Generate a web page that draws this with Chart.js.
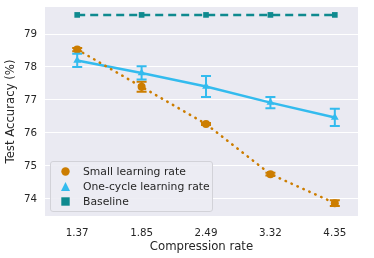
<!DOCTYPE html>
<html>
<head>
<meta charset="utf-8">
<script src="https://cdn.jsdelivr.net/npm/chart.js@4.4.1/dist/chart.umd.min.js"></script>
<style>
  html, body { margin: 0; padding: 0; background: #fff; }
  #wrap { position: relative; width: 374px; height: 258px; }
  #legenda {
    position: absolute; left: 50px; top: 161px; width: 163px; height: 51px;
    background: rgba(236,236,243,0.9); border: 1px solid #d2d2d8; border-radius: 3px;
    font-family: "DejaVu Sans", sans-serif; font-size: 10.8px; color: #262626;
    box-sizing: border-box; padding-top: 2px;
  }
  .stavka { position: relative; height: 15px; line-height: 15px; padding-left: 32px; }
  .znak { position: absolute; left: 10px; top: 3px; width: 9px; height: 9px; }
</style>
</head>
<body>
<div id="wrap">
  <canvas id="grafik" width="374" height="258"></canvas>
  <div id="legenda">
    <div class="stavka"><svg class="znak" viewBox="0 0 9 9"><circle cx="4.5" cy="4.5" r="4.2" fill="#cc7d00"/></svg>Small learning rate</div>
    <div class="stavka"><svg class="znak" viewBox="0 0 9 9"><polygon points="4.5,0 9,9 0,9" fill="#33bbee"/></svg>One-cycle learning rate</div>
    <div class="stavka"><svg class="znak" viewBox="0 0 9 9"><rect x="0.3" y="0.3" width="8.4" height="8.4" fill="#0f8a8f"/></svg>Baseline</div>
  </div>
</div>
<script>
const kategorije = ["1.37", "1.85", "2.49", "3.32", "4.35"];
const maloUcenje = [78.53, 77.4, 76.27, 74.75, 73.87];
const maloGreska = [0.05, 0.15, 0.03, 0.04, 0.09];
const jedanCiklus = [78.2, 77.82, 77.41, 76.92, 76.47];
const ciklusGreska = [0.2, 0.2, 0.32, 0.17, 0.26];
const osnovna = [79.58, 79.58, 79.58, 79.58, 79.58];
const yTikovi = [74, 75, 76, 77, 78, 79];

const boje = { malo: "#cc7d00", ciklus: "#33bbee", osnovna: "#0f8a8f" };

function tacke(niz) {
    return niz.map((v, i) => ({ x: i, y: v }));
}

const pozadina = {
    id: "pozadina",
    beforeDraw(chart) {
        const a = chart.chartArea;
        const ctx = chart.ctx;
        ctx.save();
        ctx.fillStyle = "#eaeaf2";
        ctx.fillRect(a.left, a.top, a.right - a.left, a.bottom - a.top);
        ctx.restore();
    }
};

// error bars drawn through the chart scales
const greske = {
    id: "greske",
    afterDatasetsDraw(chart) {
        const ctx = chart.ctx;
        const xs = chart.scales.x, ys = chart.scales.y;
        const crtaj = (vrijednosti, err, boja) => {
            ctx.save();
            ctx.strokeStyle = boja;
            ctx.lineWidth = 2;
            vrijednosti.forEach((v, i) => {
                const x = xs.getPixelForValue(i);
                const y1 = ys.getPixelForValue(v - err[i]);
                const y2 = ys.getPixelForValue(v + err[i]);
                ctx.beginPath();
                ctx.moveTo(x, y1); ctx.lineTo(x, y2);
                ctx.moveTo(x - 5, y1); ctx.lineTo(x + 5, y1);
                ctx.moveTo(x - 5, y2); ctx.lineTo(x + 5, y2);
                ctx.stroke();
            });
            ctx.restore();
        };
        crtaj(maloUcenje, maloGreska, boje.malo);
        crtaj(jedanCiklus, ciklusGreska, boje.ciklus);
    }
};

const ctx = document.getElementById("grafik").getContext("2d");
new Chart(ctx, {
    type: "line",
    data: {
        datasets: [{
            label: "Small learning rate",
            data: tacke(maloUcenje),
            borderColor: boje.malo,
            backgroundColor: boje.malo,
            borderWidth: 2.5,
            borderDash: [0.5, 6],
            borderCapStyle: "round",
            pointStyle: "circle",
            pointRadius: 4,
            pointBorderWidth: 0
        }, {
            label: "One-cycle learning rate",
            data: tacke(jedanCiklus),
            borderColor: boje.ciklus,
            backgroundColor: boje.ciklus,
            borderWidth: 2.5,
            pointStyle: "triangle",
            pointRadius: 4.5,
            pointBorderWidth: 0
        }, {
            label: "Baseline",
            data: tacke(osnovna),
            borderColor: boje.osnovna,
            backgroundColor: boje.osnovna,
            borderWidth: 2.5,
            borderDash: [8, 5],
            pointStyle: "rect",
            pointRadius: 4,
            pointBorderWidth: 0
        }]
    },
    options: {
        responsive: false,
        animation: false,
        layout: { padding: { top: 7, right: 16, left: 0, bottom: 0 } },
        plugins: { legend: { display: false }, tooltip: { enabled: false } },
        scales: {
            x: {
                type: "linear",
                min: -0.5,
                max: 4.36,
                afterBuildTicks: ax => { ax.ticks = kategorije.map((k, i) => ({ value: i })); },
                afterFit: ax => { ax.height = 42; ax.paddingLeft = 0; ax.paddingRight = 0; },
                grid: { display: false },
                border: { display: false },
                ticks: {
                    callback: (v) => kategorije[v],
                    font: { family: "DejaVu Sans", size: 10.3 },
                    color: "#262626",
                    padding: 3,
                    maxRotation: 0
                },
                title: {
                    display: true,
                    text: "Compression rate",
                    font: { family: "DejaVu Sans", size: 11.7 },
                    color: "#262626",
                    padding: { top: 0, bottom: 4 }
                }
            },
            y: {
                min: 73.48,
                max: 79.82,
                afterBuildTicks: ax => { ax.ticks = yTikovi.map(v => ({ value: v })); },
                afterFit: ax => { ax.width = 45; ax.paddingTop = 0; ax.paddingBottom = 0; },
                grid: { color: "#ffffff", lineWidth: 1, drawTicks: false },
                border: { display: false },
                ticks: {
                    font: { family: "DejaVu Sans", size: 10.3 },
                    color: "#262626",
                    padding: 8
                },
                title: {
                    display: true,
                    text: "Test Accuracy (%)",
                    font: { family: "DejaVu Sans", size: 11.7 },
                    color: "#262626",
                    padding: { bottom: 1 }
                }
            }
        }
    },
    plugins: [pozadina, greske]
});
</script>
</body>
</html>
